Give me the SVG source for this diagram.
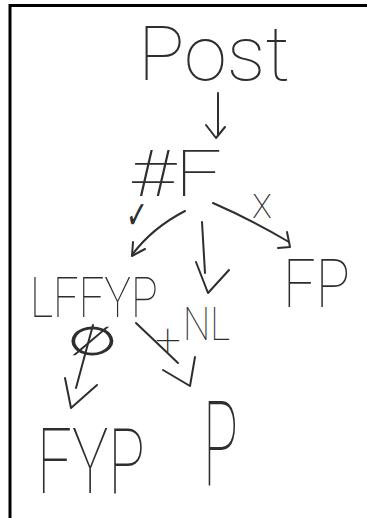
<svg xmlns="http://www.w3.org/2000/svg" width="367" height="518" viewBox="0 0 367 518">
<style>
.t{font-family:Roboto,"Liberation Sans",sans-serif;font-weight:100;fill:#2e2e2e}
.s{font-family:"DejaVu Sans",sans-serif;font-weight:200;fill:#2e2e2e}
.c{fill:none;stroke:#2e2e2e;stroke-width:2;stroke-linecap:round;stroke-linejoin:round}
</style>
<rect width="367" height="518" fill="#fff"/>
<path d="M10,518 V5.5 H367" fill="none" stroke="#000" stroke-width="3"/>
<g id="post"><text class="t" x="138" y="80" font-size="76" textLength="152" lengthAdjust="spacingAndGlyphs">Post</text></g>
<g id="hash-f"><text class="t" x="130" y="196" font-size="64" textLength="92" lengthAdjust="spacingAndGlyphs">#F</text></g>
<g id="lffyp"><text class="t" x="30" y="317" font-size="55" textLength="128" lengthAdjust="spacingAndGlyphs">LFFYP</text></g>
<g id="fp"><text class="t" x="283" y="307" font-size="67" textLength="67" lengthAdjust="spacingAndGlyphs">FP</text></g>
<g id="fyp"><text class="t" x="37" y="493" font-size="90" textLength="108" lengthAdjust="spacingAndGlyphs">FYP</text></g>
<g id="p"><text class="t" x="203" y="486" font-size="118" textLength="35" lengthAdjust="spacingAndGlyphs">P</text></g>
<g id="connectors">
<path class="c" d="M218,93 L218,135"/>
<polyline class="c" points="206,125 216,138 225,127"/>
<path class="c" d="M185,211 Q152,228 132,255"/>
<polyline class="c" points="133,242 132,256 145,249"/>
<text class="s" x="126" y="228" font-size="38" textLength="22" lengthAdjust="spacingAndGlyphs">✓</text>
<path class="c" d="M202,222 L205,273"/>
<polyline class="c" points="196,262 208,293 229,270"/>
<path class="c" d="M213,203 Q252,220 289,242"/>
<polyline class="c" points="287,232 290,247 278,248"/>
<text class="t" x="252" y="218" font-size="44" textLength="20" lengthAdjust="spacingAndGlyphs">x</text>
<path class="c" d="M93,325 L76,388"/>
<polyline class="c" points="65,378 71,408 97,385"/>
<text class="s" x="67" y="355" font-size="40" textLength="51" lengthAdjust="spacingAndGlyphs">∅</text>
<path class="c" d="M136,323 L178,363"/>
<polyline class="c" points="163,370 190,386 195,357"/>
<text class="t" font-size="46"><tspan x="155" y="356">+</tspan><tspan x="183" y="340" textLength="47" lengthAdjust="spacingAndGlyphs">NL</tspan></text>
</g>
</svg>
